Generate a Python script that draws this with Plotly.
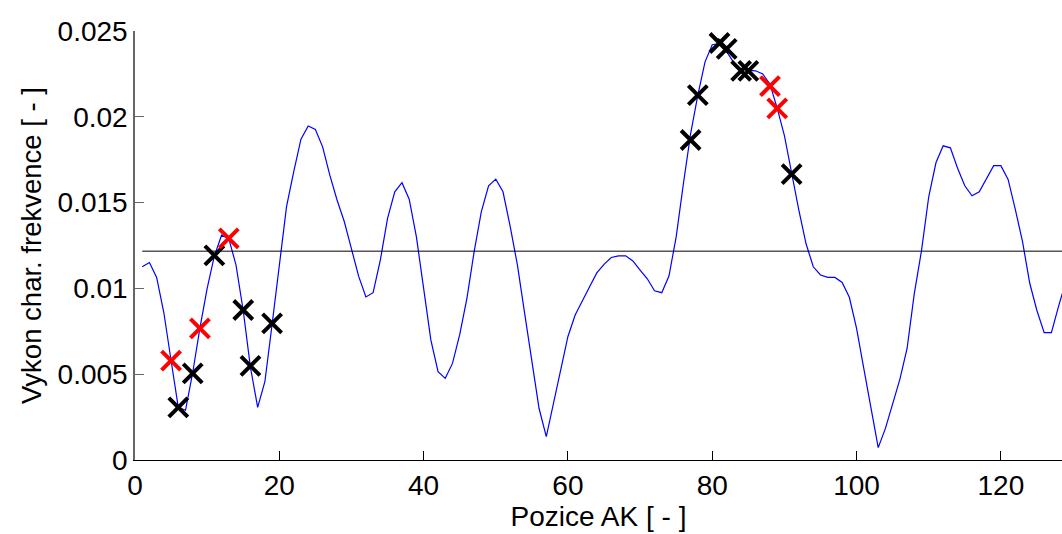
import plotly.graph_objects as go

# Curve: position index and value
pos = list(range(1, 130))
vykon = [
    0.01126, 0.01151, 0.01064, 0.00858, 0.00580, 0.00307, 0.00290, 0.00510, 0.00770, 0.01000,
    0.01190, 0.01310, 0.01290, 0.01136, 0.00870, 0.00540, 0.00307, 0.00456, 0.00790, 0.01130,
    0.01476, 0.01680, 0.01870, 0.01946, 0.01926, 0.01825, 0.01660, 0.01515, 0.01390, 0.01230,
    0.01070, 0.00950, 0.00975, 0.01165, 0.01408, 0.01563, 0.01616, 0.01520, 0.01300, 0.01000,
    0.00700, 0.00515, 0.00476, 0.00563, 0.00730, 0.00942, 0.01214, 0.01447, 0.01598, 0.01637,
    0.01563, 0.01360, 0.01136, 0.00854, 0.00563, 0.00300, 0.00136, 0.00330, 0.00544, 0.00720,
    0.00845, 0.00930, 0.01010, 0.01090, 0.01140, 0.01180, 0.01190, 0.01190, 0.01160, 0.01107,
    0.01056, 0.00986, 0.00975, 0.01072, 0.01300, 0.01610, 0.01900, 0.02126, 0.02320, 0.02420,
    0.02427, 0.02380, 0.02315, 0.02278, 0.02270, 0.02268, 0.02250, 0.02190, 0.02050, 0.01890,
    0.01670, 0.01456, 0.01260, 0.01126, 0.01078, 0.01064, 0.01064, 0.01035, 0.00948, 0.00767,
    0.00534, 0.00310, 0.00072, 0.00184, 0.00334, 0.00470, 0.00650, 0.00970, 0.01220, 0.01534,
    0.01732, 0.01831, 0.01819, 0.01700, 0.01598, 0.01540, 0.01563, 0.01637, 0.01715, 0.01715,
    0.01635, 0.01460, 0.01272, 0.01030, 0.00870, 0.00742, 0.00742, 0.00897, 0.01040,
]

# Threshold line
thr_x = [1, 129]
thr_y = [0.01217, 0.01217]

# Black markers
black_x = [6, 8, 11, 15, 16, 19, 77, 78, 81, 82, 84, 85, 91]
black_y = [0.00307, 0.00505, 0.01192, 0.00874, 0.00548, 0.00796,
           0.01865, 0.02126, 0.02430, 0.02396, 0.02268, 0.02268, 0.01666]

# Red markers
red_x = [5, 9, 13, 88, 89]
red_y = [0.00579, 0.00767, 0.01291, 0.02179, 0.02049]

y_ticks = [0, 0.005, 0.01, 0.015, 0.02, 0.025]
y_ticktext = ["0", "0.005", "0.01", "0.015", "0.02", "0.025"]
x_ticks = [0, 20, 40, 60, 80, 100, 120]

FONT = "Liberation Sans, Arial, sans-serif"

fig = go.Figure()
fig.add_trace(go.Scatter(x=pos, y=vykon, mode="lines",
                         line=dict(color="#0000FF", width=1.2), showlegend=False))
fig.add_trace(go.Scatter(x=thr_x, y=thr_y, mode="lines",
                         line=dict(color="black", width=1), showlegend=False))
fig.add_trace(go.Scatter(x=black_x, y=black_y, mode="markers",
                         marker=dict(symbol="x-thin", size=19,
                                     line=dict(color="black", width=4)),
                         showlegend=False))
fig.add_trace(go.Scatter(x=red_x, y=red_y, mode="markers",
                         marker=dict(symbol="x-thin", size=19,
                                     line=dict(color="#FF0000", width=4)),
                         showlegend=False))

fig.update_layout(
    width=1062, height=534,
    margin=dict(l=135, r=0, t=31, b=74),
    paper_bgcolor="white", plot_bgcolor="white",
    font=dict(family=FONT, size=28, color="black"),
    xaxis=dict(
        range=[0, 128.47], tickvals=x_ticks,
        showgrid=False, zeroline=False,
        showline=True, linecolor="black", linewidth=1.2,
        ticks="inside", ticklen=9, tickcolor="black", tickwidth=1,
        tickfont=dict(size=28),
        title=dict(text="Pozice AK [ - ]", font=dict(size=28), standoff=4),
    ),
    yaxis=dict(
        range=[0, 0.025], tickvals=y_ticks, ticktext=y_ticktext,
        showgrid=False, zeroline=False,
        showline=True, linecolor="#666666", linewidth=1.5,
        ticks="inside", ticklen=9, tickcolor="#666666", tickwidth=1,
        tickfont=dict(size=28),
        title=dict(text="Vykon char. frekvence [ - ]", font=dict(size=27.5), standoff=8),
    ),
)

fig.write_html(
    "out.html",
    config={"displayModeBar": False},
    post_script="document.body.style.margin='0';document.body.style.overflow='hidden';",
)
